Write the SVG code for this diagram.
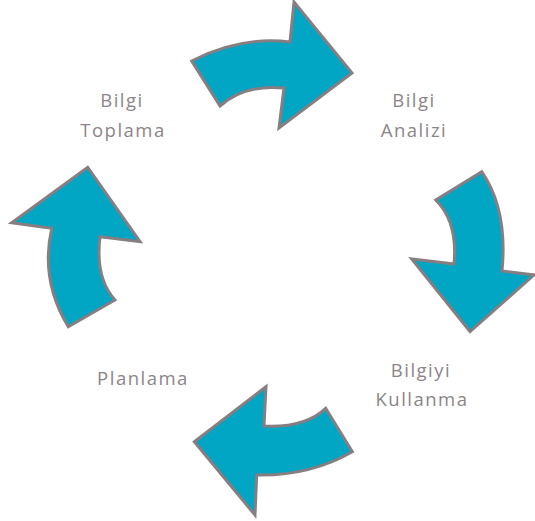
<svg xmlns="http://www.w3.org/2000/svg" width="535" height="521" viewBox="0 0 535 521">
<style>
.arr{fill:#00A6C3;stroke:#877E82;stroke-width:3;stroke-linejoin:miter}
.lbl{font-family:"Open Sans","Liberation Sans",sans-serif;font-size:18.5px;fill:#8C8588;text-anchor:middle;letter-spacing:1.5px}
</style>
<rect width="535" height="521" fill="#FFFFFF"/>
<g id="connectors">
<path id="arrow-top" class="arr" d="M191.7,61 Q240,36 290,42 L294,2 L352,73 L279,128 L284,88 Q245,84 220,106 Z"/>
<path id="arrow-right" class="arr" d="M435.7,200 L481.7,171.7 Q508,210 502,271 L534,275 L470,331.7 L411.7,259 L454,264 Q458,222 435.7,200 Z"/>
<path id="arrow-bottom" class="arr" d="M266,386.7 L264,426 Q305,428 325.7,408.3 L352.3,451.7 Q310,476 256.7,475 L255,515 L194.3,441.7 Z"/>
<path id="arrow-left" class="arr" d="M87.7,167.3 L140,241.7 L100,236.7 Q95,278 115,300 L68.3,326.7 Q40,280 51.7,228.3 L11.7,222.7 Z"/>
</g>
<g id="node-bilgi-toplama">
<text class="lbl" x="122" y="107">Bilgi</text>
<text class="lbl" x="123" y="137">Toplama</text>
</g>
<g id="node-bilgi-analizi">
<text class="lbl" x="414" y="107">Bilgi</text>
<text class="lbl" x="414" y="137">Analizi</text>
</g>
<g id="node-bilgiyi-kullanma">
<text class="lbl" x="421" y="377">Bilgiyi</text>
<text class="lbl" x="422" y="406">Kullanma</text>
</g>
<g id="node-planlama">
<text class="lbl" x="143" y="385">Planlama</text>
</g>
</svg>
